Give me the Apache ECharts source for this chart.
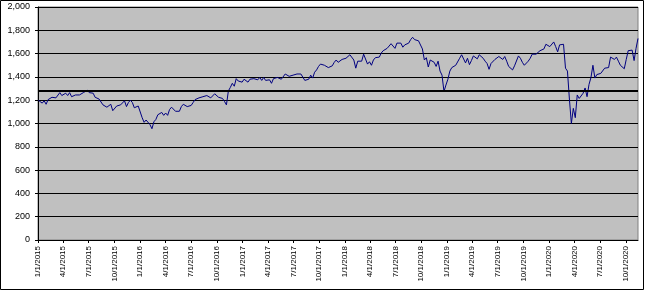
<!DOCTYPE html>
<html>
<head>
<meta charset="utf-8">
<script src="https://cdn.jsdelivr.net/npm/echarts@6/dist/echarts.min.js"></script>
<style>
html,body{margin:0;padding:0;background:#fff;}
#chart{width:645px;height:292px;}
</style>
</head>
<body>
<div id="chart"></div>
<script>
// Weekly (Friday) closing values, first week ending 2015-01-02
const firstWeek = [2015, 0, 2];
const values2015 = [1200,1190,1175,1195,1165, 1205,1215,1225,1233, 1220,1225,1265,1240, 1245,1260,1240,1265,
  1230,1240,1245,1255,1245, 1260,1265,1280,1285, 1265,1250,1260,1225,1240, 1210,1225,1160,1160,
  1140,1150,1165,1110, 1110,1150,1160,1160,1165, 1195,1145,1180,1200, 1180,1135,1120,1150];
const values2016 = [1135,1050,1010,1030,1035, 990,955,1015,1035, 1075,1080,1095,1070, 1090,1070,1120,1140,1130,
  1105,1100,1105,1145, 1165,1165,1145,1130, 1155,1180,1205,1210,1220, 1235,1230,1240,1240,
  1250,1220,1215,1255,1250, 1225,1215,1215,1190, 1160,1280,1310,1345, 1320,1385,1365,1375,1355];
const values2017 = [1380,1370,1355,1380, 1375,1385,1390,1375, 1395,1370,1395,1370,1385, 1375,1345,1385,1400,
  1395,1385,1380,1385, 1425,1415,1405,1410,1415, 1415,1425,1435,1425, 1410,1370,1360,1380,
  1415,1390,1440,1460,1490, 1510,1505,1500,1500, 1480,1470,1495,1525, 1545,1525,1535,1550,1535];
const values2018 = [1560,1575,1590,1605, 1545,1475,1535,1545, 1535,1595,1580,1510,1530, 1500,1545,1565,1555,
  1570,1605,1625,1625, 1645,1665,1685,1685,1645, 1690,1690,1690,1655, 1675,1670,1690,1720,1740,
  1720,1720,1710,1695, 1640,1545,1565,1485, 1545,1550,1525,1490,1535, 1450,1415,1275,1330];
const values2019 = [1380,1450,1480,1485, 1500,1500,1560,1590, 1580,1520,1560,1505,1540, 1580,1580,1555,1590,
  1605,1560,1535,1515,1465, 1515,1515,1550,1565, 1575,1560,1550,1575, 1535,1490,1475,1460,1495,
  1505,1580,1560,1525, 1500,1510,1535,1560, 1595,1600,1595,1590,1625, 1630,1640,1680,1675];
const values2020 = [1660,1665,1700,1660,1615, 1675,1685,1680,1475, 1450,1210,1000,1130, 1050,1245,1215,1230,
  1260,1305,1230,1335,1395, 1500,1390,1420,1410, 1430,1420,1475,1470,1480, 1570,1580,1550,1570,
  1535,1500,1505,1470, 1550,1625,1610,1630,1540, 1645,1730];
const refLevel = 1280;
const tickLabels = ['1/1/2015','4/1/2015','7/1/2015','10/1/2015','1/1/2016','4/1/2016','7/1/2016','10/1/2016',
  '1/1/2017','4/1/2017','7/1/2017','10/1/2017','1/1/2018','4/1/2018','7/1/2018','10/1/2018',
  '1/1/2019','4/1/2019','7/1/2019','10/1/2019','1/1/2020','4/1/2020','7/1/2020','10/1/2020'];

function parseMDY(s){ const p = s.split('/').map(Number); return new Date(p[2], p[0]-1, p[1]).getTime(); }
const allValues = [].concat(values2015, values2016, values2017, values2018, values2019, values2020);
const data = allValues.map((v, i) => [new Date(firstWeek[0], firstWeek[1], firstWeek[2] + 7*i).getTime(), v]);
const tickTimes = tickLabels.map(parseMDY);
const xMin = tickTimes[0];
const xMax = data[data.length-1][0];

const chart = echarts.init(document.getElementById('chart'), null, {renderer:'canvas'});
chart.setOption({
  animation: false,
  backgroundColor: '#ffffff',
  grid: {left: 38, right: 7, top: 7, bottom: 52, show: true, backgroundColor: '#C0C0C0', borderColor: '#808080', borderWidth: 1},
  xAxis: {
    type: 'value', min: xMin, max: xMax, scale: true,
    axisLine: {show: true, onZero: false, lineStyle: {color: '#000', width: 1}},
    axisTick: {show: true, length: 3, customValues: tickTimes, lineStyle: {color: '#000'}},
    axisLabel: {
      customValues: tickTimes, rotate: 90, margin: 6, fontSize: 8, color: '#000',
      fontFamily: 'Liberation Sans, Arial, sans-serif', showMinLabel: true, showMaxLabel: true,
      formatter: function(v){ const i = tickTimes.indexOf(v); return i >= 0 ? tickLabels[i] : ''; }
    },
    splitLine: {show: false}
  },
  yAxis: {
    type: 'value', min: 0, max: 2000, interval: 200,
    axisLine: {show: true, lineStyle: {color: '#000', width: 1}},
    axisTick: {show: true, length: 3, lineStyle: {color: '#000'}},
    axisLabel: {margin: 8, fontSize: 9, color: '#000', fontFamily: 'Liberation Sans, Arial, sans-serif',
      formatter: v => v.toLocaleString('en-US')},
    splitLine: {show: true, lineStyle: {color: '#000', width: 1}}
  },
  series: [{
    type: 'line', data: data, showSymbol: false, symbol: 'none',
    lineStyle: {color: '#000080', width: 1},
    markLine: {silent: true, symbol: 'none', label: {show: false},
      lineStyle: {color: '#000', width: 2, type: 'solid'}, data: [{yAxis: refLevel}]}
  }],
  graphic: [{type: 'rect', shape: {x: 0.5, y: 0.5, width: 643, height: 289}, style: {fill: 'none', stroke: '#000', lineWidth: 1}, z: 100}]
});
</script>
</body>
</html>
